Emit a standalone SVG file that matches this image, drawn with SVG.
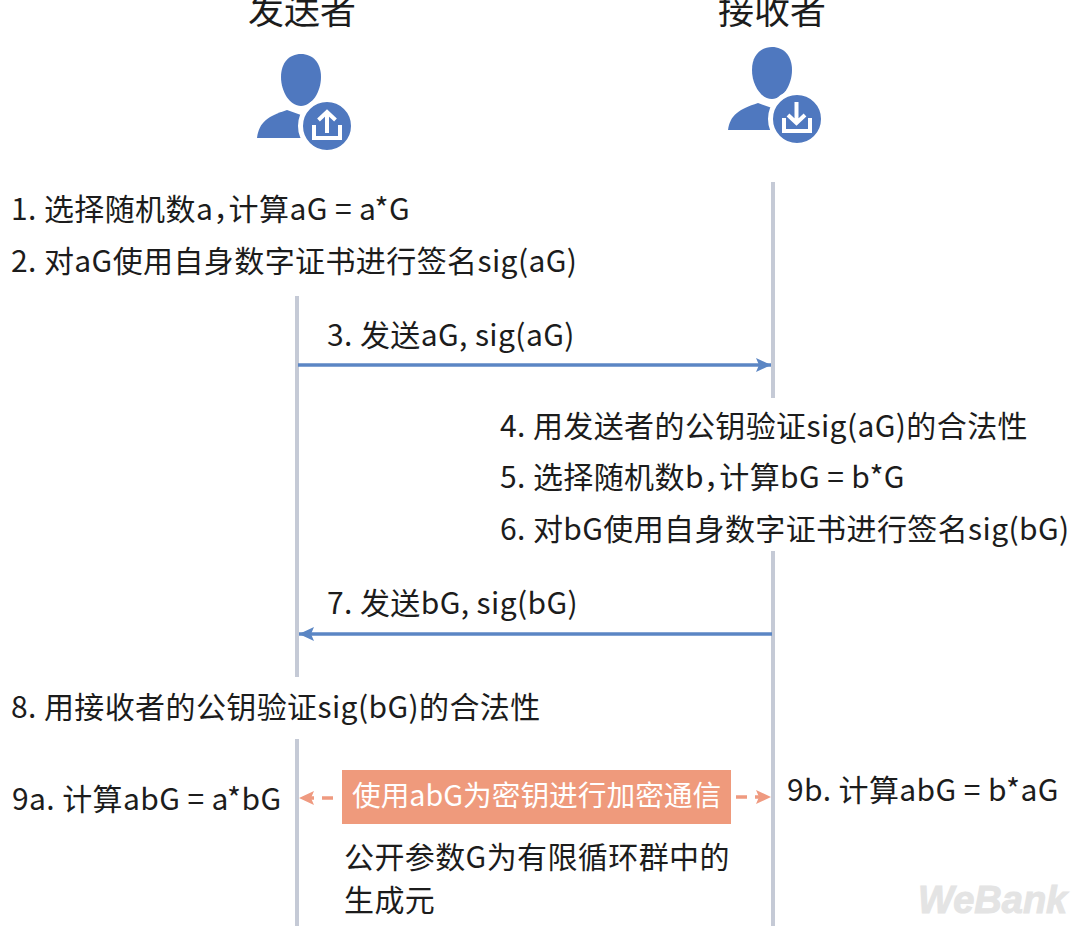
<svg xmlns="http://www.w3.org/2000/svg" width="1080" height="926" viewBox="0 0 1080 926">
<defs>
<style>
text{font-family:"Noto Sans CJK SC","Noto Sans",sans-serif;fill:#1c1c1c;font-size:30px;letter-spacing:.4px}
.h{font-size:36px;letter-spacing:0}
.life{stroke:#c5cad6;stroke-width:4;fill:none}
.blue{stroke:#5b86c4;stroke-width:3.5;fill:none}
.dash{stroke:#ef9a80;stroke-width:3.5;stroke-dasharray:11 8;fill:none}
.ic{fill:#4f78bf}
.wl{fill:none;stroke:#fff;stroke-width:4}
</style>
<marker id="ab" markerUnits="userSpaceOnUse" markerWidth="16" markerHeight="16" refX="15" refY="7" orient="auto-start-reverse"><path d="M0 0L15 7L0 14L3 7Z" fill="#5b86c4"/></marker>
<marker id="ao" markerUnits="userSpaceOnUse" markerWidth="16" markerHeight="16" refX="15" refY="7" orient="auto-start-reverse"><path d="M0 0L15 7L0 14L3 7Z" fill="#ef9a80"/></marker>
<path id="head" d="M20 0C32 0 40 9 40 23C40 38 31 52 20 52C9 52 0 38 0 23C0 9 8 0 20 0Z"/>
</defs>
<rect width="1080" height="926" fill="#fff"/>
<g id="connectors">
<path class="life" d="M297 296V677M297 739V926M773 182V398M773 551V926"/>
<path class="blue" marker-end="url(#ab)" d="M298 365H771"/>
<path class="blue" marker-end="url(#ab)" d="M772 634H299"/>
<path class="dash" marker-end="url(#ao)" d="M333 798H299"/>
<path class="dash" marker-end="url(#ao)" d="M736 797H771"/>
</g>
<g id="sender"><text class="h" x="302" y="24" text-anchor="middle">发送者</text>
<use href="#head" x="281" y="54" class="ic"/><path class="ic" d="M257 138C259 122 268 116 287 110L301 115V138Z"/>
<circle class="ic" cx="327" cy="126" r="26.5" stroke="#fff" stroke-width="5"/>
<path class="wl" d="M314 125V138H340V125M327 133V112M318.500 120L327 112L335.500 120"/></g>
<g id="receiver"><text class="h" x="772" y="24" text-anchor="middle">接收者</text>
<use href="#head" x="752" y="47" class="ic"/><path class="ic" d="M728 130C730 115 739 109 758 103L772 108V130Z"/>
<circle class="ic" cx="797" cy="119" r="26.500" stroke="#fff" stroke-width="5"/>
<path class="wl" d="M784 118V131H810V118M796.500 102V123M788 115L796.500 123L805 115"/></g>
<g id="steps-sender">
<text x="11" y="220">1. 选择随机数a，<tspan dx="-15">计算aG = a*G</tspan></text>
<text x="11" y="272">2. 对aG使用自身数字证书进行签名sig(aG)</text>
<text x="11" y="718">8. 用接收者的公钥验证sig(bG)的合法性</text>
<text x="12" y="810">9a. 计算abG = a*bG</text>
</g>
<g id="steps-receiver">
<text x="500" y="437">4. 用发送者的公钥验证sig(aG)的合法性</text>
<text x="500" y="488">5. 选择随机数b，<tspan dx="-15">计算bG = b*G</tspan></text>
<text x="500" y="540">6. 对bG使用自身数字证书进行签名sig(bG)</text>
<text x="787" y="801">9b. 计算abG = b*aG</text>
</g>
<g id="messages">
<text x="327" y="346">3. 发送aG, sig(aG)</text>
<text x="327" y="614">7. 发送bG, sig(bG)</text>
</g>
<g id="session"><rect x="342" y="770" width="389" height="54" fill="#ef9a7c"/>
<text x="352" y="806" style="fill:#fff;font-size:28.700px;letter-spacing:0">使用abG为密钥进行加密通信</text></g>
<g id="note"><text x="344" y="868">公开参数G为有限循环群中的</text><text x="344" y="911">生成元</text></g>
<g id="watermark"><text x="918" y="913" style="font-family:'Liberation Sans',sans-serif;font-size:38px;letter-spacing:0;font-weight:700;font-style:italic;fill:#e4e4e4;stroke:#e4e4e4;stroke-width:1">WeBank</text></g>
</svg>
